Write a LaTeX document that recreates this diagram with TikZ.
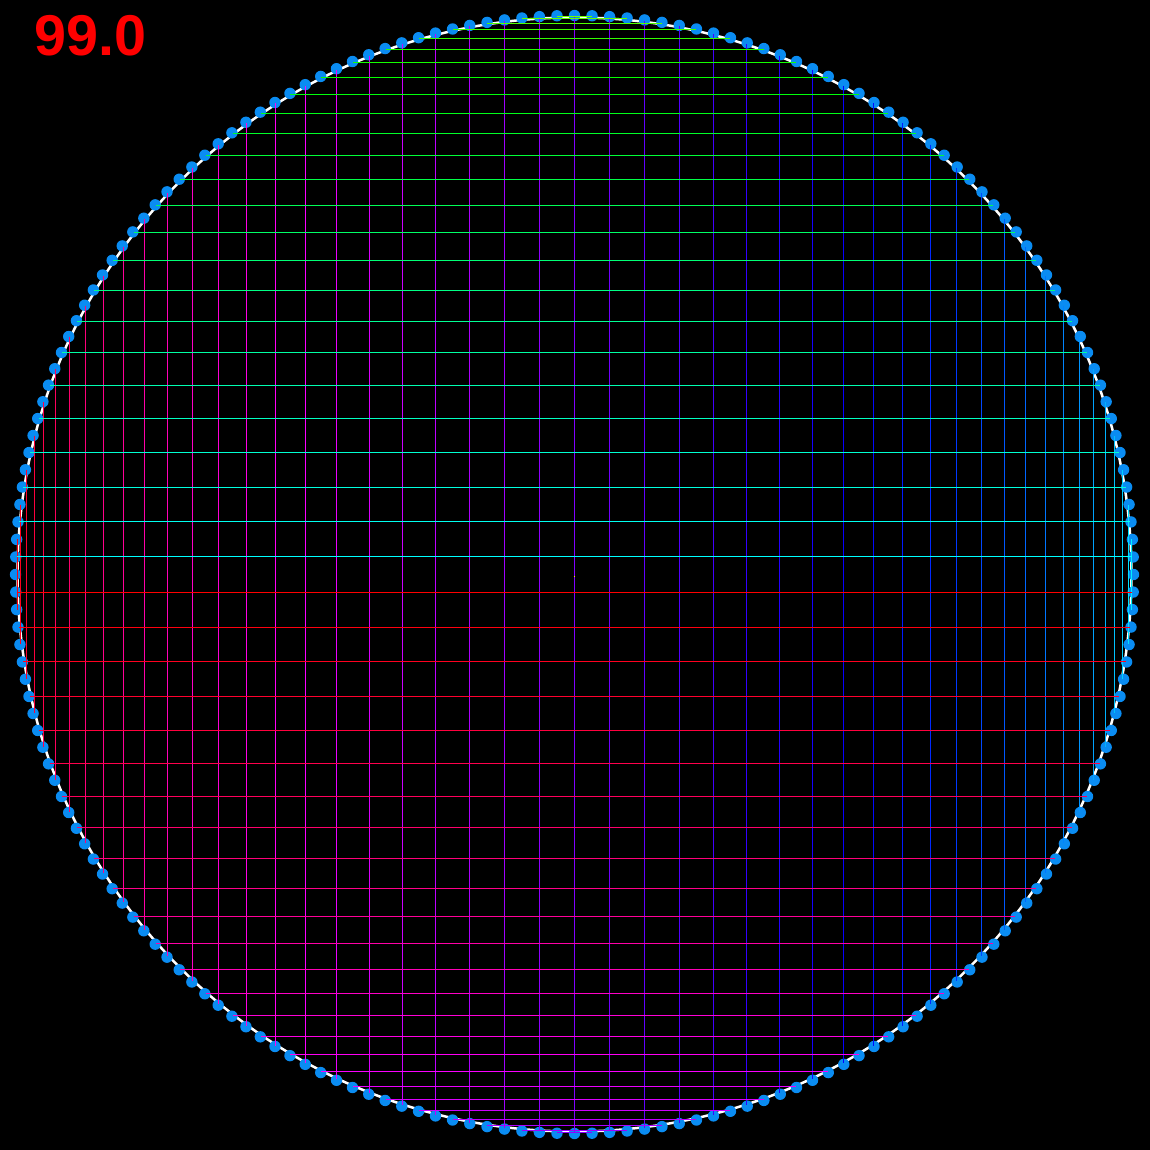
\documentclass[tikz,border=0pt]{standalone}
\usepackage{fontspec}
\setsansfont{Liberation Sans}
\usetikzlibrary{calc}
\definecolor{dotblue}{RGB}{10,140,242}
\tikzset{
  gridline/.style={line width=1pt},
  rim/.style={draw=white, line width=2.5pt},
  rimdot/.style={fill=dotblue, draw=none},
  label99/.style={text=red, font=\sffamily\bfseries\fontsize{57.5}{57.5}\selectfont, inner sep=0pt, anchor=base west}
}
\begin{document}
\begin{tikzpicture}[x=1pt,y=1pt]
  \fill[black] (0,0) rectangle (1150,-1150);
  \useasboundingbox (0,0) rectangle (1150,-1150);
  \coordinate (C) at (574.5,-574.5);
  % rim
  \draw[rim] (C) circle[radius=557];
  \foreach \a in {0,1.8,...,358.3} {
    \fill[rimdot] ($(C)+(\a:559)$) circle[radius=5.7];
  }
  % vertical lines
  \foreach \k in {-24,...,24} {
    \pgfmathsetmacro\th{3.6*\k}
    \pgfmathsetmacro\hue{270-\th}
    \pgfmathsetmacro\xx{558*sin(\th)}
    \pgfmathsetmacro\hh{558*cos(\th)}
    \definecolor{vc}{Hsb}{\hue,1,1}
    \draw[gridline, vc] ($(C)+(\xx,\hh)$) -- ($(C)+(\xx,-\hh)$);
  }
  % horizontal lines
  \foreach \j in {0,...,49} {
    \pgfmathsetmacro\ph{88.2-3.6*\j}
    \pgfmathsetmacro\hue{ifthenelse(\j<25,93.6+3.6*\j,ifthenelse(\j==25,0,450-3.6*\j))}
    \pgfmathsetmacro\yy{558*sin(\ph)}
    \pgfmathsetmacro\ww{558*cos(\ph)}
    \definecolor{hc}{Hsb}{\hue,1,1}
    \draw[gridline, hc] ($(C)+(-\ww,\yy)$) -- ($(C)+(\ww,\yy)$);
  }
  \fill[yellow] (573.5,-575.5) rectangle (575,-576.5);
  \node[label99] (lbl) at (34,-56) {99.0};
\end{tikzpicture}
\end{document}
